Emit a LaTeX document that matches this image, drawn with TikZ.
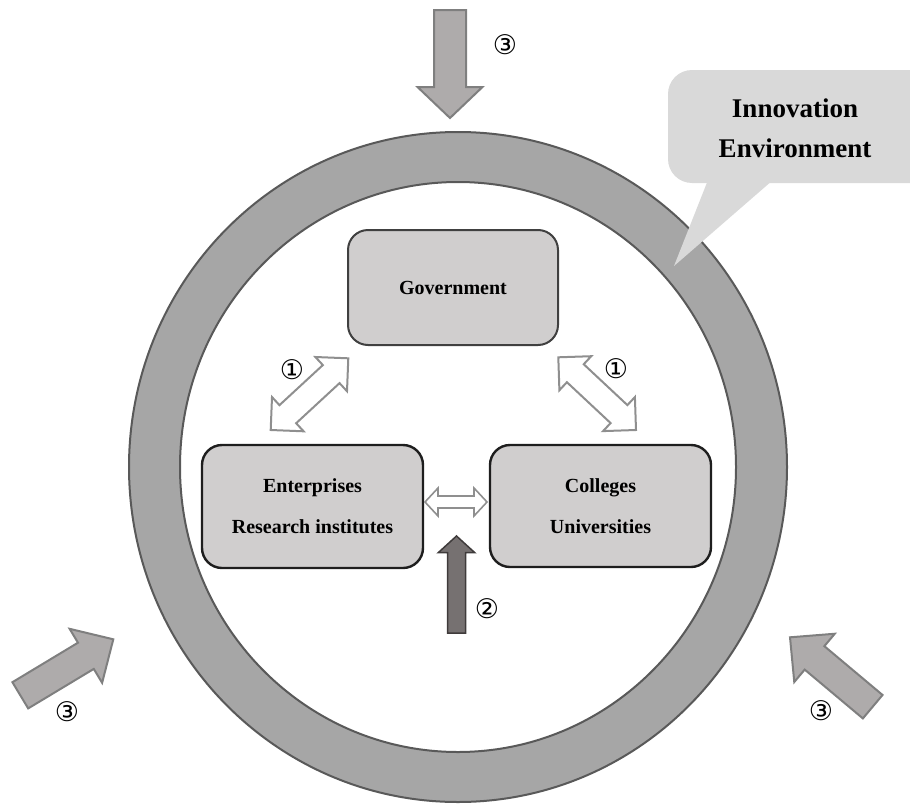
\documentclass[tikz,border=0pt]{standalone}
\usepackage{fontspec}
\setmainfont{Liberation Serif}
\newfontfamily\circfont{DejaVu Sans}
\usetikzlibrary{calc}
\definecolor{ringfill}{HTML}{A6A6A6}
\definecolor{ringline}{HTML}{595959}
\definecolor{boxfill}{HTML}{D0CECE}
\definecolor{boxline}{HTML}{1E1E1E}
\definecolor{calloutfill}{HTML}{D9D9D9}
\definecolor{outfill}{HTML}{AEABAB}
\definecolor{outline}{HTML}{7F7F7F}
\definecolor{darkfill}{HTML}{767171}
\definecolor{darkline}{HTML}{3F3B3B}
\definecolor{hollowline}{HTML}{8F8F8F}
% single fat arrow: style, start, tip, shaft half width, head half width, head length
\newcommand{\myfatarrow}[6]{%
  \coordinate (hb) at ($(#3)!#6!(#2)$);
  \path[#1] ($(#2)!#4!90:(#3)$) -- ($(hb)!#4!90:(#3)$) -- ($(hb)!#5!90:(#3)$) -- (#3)
    -- ($(hb)!#5!-90:(#3)$) -- ($(hb)!#4!-90:(#3)$) -- ($(#2)!#4!-90:(#3)$) -- cycle;}
% double fat arrow
\newcommand{\mydblarrow}[6]{%
  \coordinate (hba) at ($(#2)!#6!(#3)$);
  \coordinate (hbb) at ($(#3)!#6!(#2)$);
  \path[#1] (#2) -- ($(hba)!#5!90:(#3)$) -- ($(hba)!#4!90:(#3)$) -- ($(hbb)!#4!90:(#3)$)
    -- ($(hbb)!#5!90:(#3)$) -- (#3) -- ($(hbb)!#5!-90:(#3)$) -- ($(hbb)!#4!-90:(#3)$)
    -- ($(hba)!#4!-90:(#3)$) -- ($(hba)!#5!-90:(#3)$) -- cycle;}
\begin{document}
\begin{tikzpicture}[x=1pt,y=-1pt,
  actor/.style={draw=boxline, line width=2.4pt, fill=boxfill, rounded corners=20pt,
    align=center, font=\fontsize{20}{41}\selectfont\bfseries, inner sep=0pt},
  outarrow/.style={fill=outfill, draw=outline, line width=2pt},
  darkarrow/.style={fill=darkfill, draw=darkline, line width=1.5pt},
  hollow/.style={fill=white, draw=hollowline, line width=2pt},
  numlabel/.style={font=\circfont\fontsize{27}{27}\selectfont, inner sep=0pt}]
\useasboundingbox (0,0) rectangle (910,803);
\clip (0,0) rectangle (910,803);
% ring
\path[draw=ringline, line width=2pt, fill=ringfill, even odd rule]
  (458,467) ellipse [x radius=329pt, y radius=335pt]
  (458,467) ellipse [x radius=278pt, y radius=285pt];
% callout
\fill[calloutfill, rounded corners=24pt] (668,70) rectangle (935,183);
\coordinate (tailL) at (708,180);
\coordinate (tailR) at (773,180);
\coordinate (tailT) at (674,266);
\fill[calloutfill] (tailL) -- (tailT) -- (tailR) -- cycle;
\node[align=center, font=\fontsize{27}{40}\selectfont\bfseries, inner sep=0pt] (env) at (795,128) {Innovation\\Environment};
% outer arrows
\coordinate (t3s) at (450,10);      \coordinate (t3t) at (450,118);
\coordinate (l3s) at (20.3,695.3);  \coordinate (l3t) at (113.3,639.3);
\coordinate (r3s) at (872.7,706.7); \coordinate (r3t) at (790,637.3);
\myfatarrow{outarrow}{t3s}{t3t}{16pt}{32.5pt}{31pt}
\myfatarrow{outarrow}{l3s}{l3t}{15.3pt}{31.5pt}{32pt}
\myfatarrow{outarrow}{r3s}{r3t}{15.3pt}{31.5pt}{32pt}
% actors
\node[actor, minimum width=210pt, minimum height=115pt, line width=2pt, draw=black!75] (gov) at (453,287.5) {Government};
\node[actor, minimum width=221pt, minimum height=123pt] (ent) at (312.5,506.5) {Enterprises\\Research institutes};
\node[actor, minimum width=221pt, minimum height=122pt] (col) at (600.5,506) {Colleges\\Universities};
% interaction arrows
\coordinate (d1a) at (270.7,430);   \coordinate (d1b) at (348.3,358.3);
\coordinate (d2a) at (558.3,357.3); \coordinate (d2b) at (636,430);
\coordinate (hA) at (425,502);      \coordinate (hB) at (487,502);
\mydblarrow{hollow}{d1a}{d1b}{12.3pt}{23.3pt}{23.3pt}
\mydblarrow{hollow}{d2a}{d2b}{12.3pt}{23.3pt}{23.3pt}
\mydblarrow{hollow, line width=1.6pt}{hA}{hB}{6pt}{14pt}{13pt}
\coordinate (a2s) at (456.5,633);   \coordinate (a2t) at (456.5,536);
\myfatarrow{darkarrow}{a2s}{a2t}{9pt}{18.3pt}{16.7pt}
% labels
\node[numlabel] (n3top) at (505,45) {③};
\node[numlabel] (n1l) at (292,370) {①};
\node[numlabel] (n1r) at (616,369) {①};
\node[numlabel] (n2) at (487,609) {②};
\node[numlabel] (n3l) at (67,712) {③};
\node[numlabel] (n3r) at (821,711) {③};
\end{tikzpicture}
\end{document}
